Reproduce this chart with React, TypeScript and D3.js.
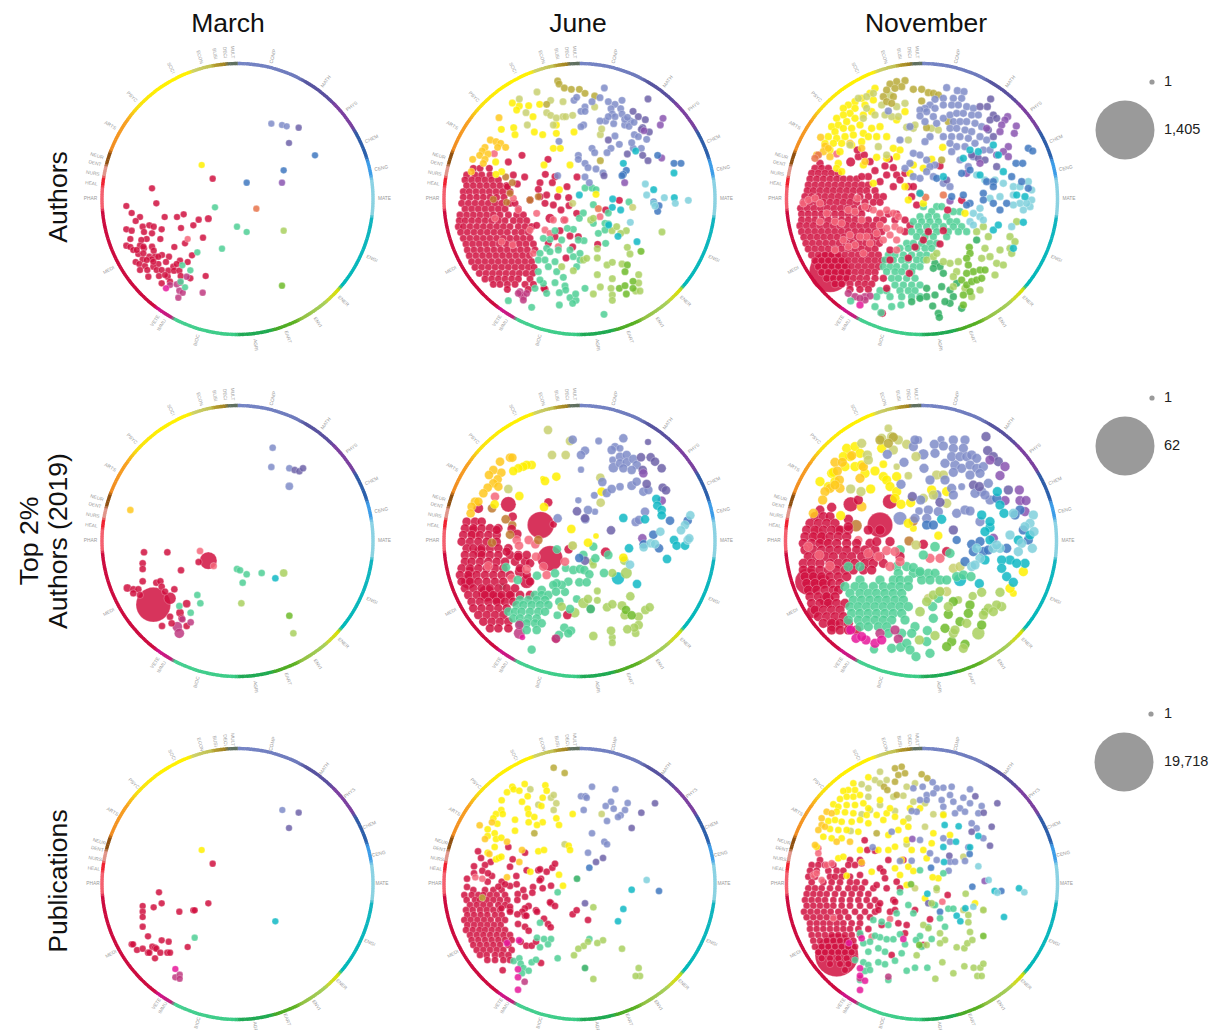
import React from "react";
import * as d3 from "d3";

const columnTitles = ["March", "June", "November"];
const fieldLabels: [string, number][] = [["COMP",14],["MATH",37],["PHYS",51],["CHEM",66],["CENG",78],["MATE",90],["ENGI",114],["ENER",134],["ENVI",147],["EART",160],["AGRI",173],["BIOC",196],["IMMU",211],["VETE",214],["MEDI",241],["PHAR",270],["HEAL",276],["NURS",280],["DENT",284],["NEUR",287],["ARTS",300],["PSYC",314],["SOCI",333],["ECON",345],["BUSI",351],["DECI",355],["MULT",358]];
const ringStops: [number, string][] = [[0,"#7585c5"],[27,"#6c78bb"],[30,"#55559f"],[43,"#5a4c9e"],[46,"#7c3fa0"],[58,"#7a3f9e"],[61,"#2f5aa5"],[72,"#2a60ac"],[74,"#3c9ce8"],[80,"#3c9ce8"],[82,"#8bd2e4"],[97,"#8bd2e0"],[98,"#10b4bf"],[130,"#00b8b8"],[132,"#d8e000"],[138,"#c8d830"],[140,"#a8cf5c"],[152,"#90c040"],[155,"#5ab020"],[164,"#45a825"],[166,"#1faa50"],[179,"#1fa855"],[181,"#3acb85"],[208,"#45cf90"],[209,"#c02078"],[216,"#d0108a"],[218,"#cc0a3e"],[265,"#cc0a3e"],[266,"#f4606f"],[275,"#f4606f"],[276,"#f0202f"],[279,"#f0202f"],[280,"#e0958a"],[284,"#e0958a"],[285,"#8f5010"],[290,"#8f5010"],[291,"#f08a20"],[305,"#f8a020"],[312,"#f8e010"],[325,"#fff000"],[339,"#fff000"],[341,"#ccd06a"],[349,"#c0c050"],[350,"#b5a030"],[355,"#a08020"],[356,"#607060"],[360,"#607060"]];
const fieldColors: Record<string,string> = {MEDI:"#d0103f",PHAR:"#f4667a",BIOC:"#4fcf95",AGRI:"#2fae62",ENVI:"#a9d05f",EART:"#6fbb2a",ENGI:"#10b8c4",MATE:"#7fd0dc",CHEM:"#3f78c0",PHYS:"#8a55b0",MATH:"#6d62a8",COMP:"#7f8cc8",SOCI:"#fff000",PSYC:"#ffc81e",NEUR:"#c07a30",ECON:"#c8d070",BUSI:"#b8aa38",IMMU:"#c03a80",VETE:"#e6189a",ORAN:"#e8734a"};

// March, Authors
const AM_MEDI=[186,445,368,416,109,498,199,490,125,519,150,531,137,543,224,531,261,531,281,523,326,539,310,556,273,564,158,560,178,556,191,560,215,568,109,568,125,572,162,576,186,580,121,597,211,597,339,593,170,597,154,600,109,617,121,621,150,617,130,630,162,625,186,620,191,632,253,621,285,610,306,646,145,642,137,666,158,658,178,650,195,650,216,645,237,650,228,666,148,672,165,678,185,658,205,672,150,690,172,690,190,680,200,690,235,692,250,680,270,662,293,666,175,710,207,708,233,710,252,692,268,692,215,730,240,725,272,708,301,715,347,708,260,672,160,620,140,630,170,660,190,665,205,650,215,690,225,705,160,640];
const AM_PHAR=[293,597];
const AM_BIOC=[375,502,441,560,470,576,396,626,322,637,277,676,301,691,272,725,285,742];
const AM_ENVI=[581,572];const AM_EART=[576,737];const AM_ORAN=[499,506];
const AM_IMMU=[260,733,270,728,240,735,268,752,278,758,265,773,338,758,290,710];const AM_VETE=[228,745];
const AM_COMP=[544,251,576,255,590,259];const AM_MATH=[626,263,597,309];const AM_CHEM=[675,346,581,391,470,428];const AM_PHYS=[576,428];const AM_SOCI=[335,375];
const AM_BIG=[["MEDI",355,536,11]];

// June, Authors
const AJ_BLOB=[[385,130,150,178],[405,110,135,155,180],[420,105,125,145,165,185,205],[437,110,130,150,170,190,210,230],[455,100,118,138,158,178,198,218,240],[472,100,120,140,160,180,200,222],[490,95,115,135,155,175,195,215,240,255],[507,105,125,145,165,185,205,225,265],[525,90,110,130,150,170,190,210,235,260,280],[542,88,105,125,145,165,185,205,225,250,270,290],[560,85,100,120,140,160,180,200,220,240,265,285,305],[577,92,112,132,152,172,192,212,232,255,275,295],[595,100,120,140,160,180,200,220,240,260,280,300],[612,108,128,148,168,188,208,228,248,268,288,310],[630,112,132,152,172,192,212,232,252,272,292,315],[647,118,138,158,178,198,218,238,258,278,298],[665,125,145,165,185,205,225,245,265,285,305],[682,135,155,175,195,215,235,255,275,295,312],[700,148,168,188,208,228,248,268,288,308],[717,165,185,205,225,245,265,300],[733,190,210,232,255,285,310],[748,232,295,345]];
const AJ_MEDI=[276,346,354,358,346,403,284,411,250,405,375,410,367,428,441,411,330,428,411,440,325,448,262,432,232,440,350,465,330,470,383,470,416,473,300,480,345,490,370,495,417,497,393,510,440,520,402,540,568,481,527,510,503,613,408,654,342,745,428,621,320,556,390,572,420,588,355,610,445,590,375,590];
const AJ_PHAR=[193,341,370,540,405,540,510,530,345,570,360,580,385,620,250,475,265,510,320,520,300,570,310,640,215,605,248,615,195,535];
const AJ_SOCI=[247,189,268,198,296,197,329,193,260,210,309,230,214,268,251,263,255,284,313,276,338,284,379,280,432,276,379,255,370,325,391,325,342,375,420,375,197,366,215,395,198,403,388,449,498,463];
const AJ_PSYC=[207,233,181,300,198,305,212,310,203,322,227,322,165,322,157,333,174,342,149,346,128,358,165,358,124,395,160,370];
const AJ_NEUR=[227,411,247,428,240,460,190,478,230,487,300,480,325,470];
const AJ_ECON=[321,156,268,177,362,181,399,185,288,218,350,218,362,226,379,234,399,230,407,230,428,226,292,255,370,255,511,284,515,267,494,201,428,490,608,502];
const AJ_BUSI=[383,123,387,132,403,144,424,148,448,148,465,160,494,168,350,193,511,362];
const AJ_COMP=[523,144,510,173,486,185,432,181,440,172,535,185,576,181,555,193,543,206,572,206,465,201,453,214,465,214,547,222,576,222,527,243,510,243,551,251,461,255,453,260,584,255,601,243,597,259,584,238,592,232,612,247,555,230,535,230,387,304,555,288,613,284,625,290,650,298,486,325,494,338,543,325,531,338,568,313,445,346,445,358,465,370,474,383,498,387,383,407,465,411,478,428,519,399,610,325,605,308,634,325];
const AJ_MATH=[654,177,609,214,625,230,646,239,638,263,658,276,634,268,535,300,592,342,638,346,654,362,522,407];
const AJ_PHYS=[699,235,691,255,642,272,695,354,584,428];
const AJ_CHEM=[683,346,732,370,753,370,589,391,580,403,576,407,671,486,687,497,683,514];
const AJ_ENGI=[617,333,580,370,732,399,671,449,448,465,548,477,547,502,572,510,733,473,621,605,564,589,536,555];
const AJ_MATE=[646,432,650,465,703,473,736,490,775,481,671,490,675,498,601,547];
const AJ_BIOC=[465,444,486,444,498,449,490,494,535,519,597,486,460,519,448,535,430,568,412,565,375,572,490,550,525,550,535,552,505,580,525,570,462,602,445,600,527,610,360,598,340,595,395,600,350,625,330,640,360,635,385,630,325,660,345,660,375,665,355,680,325,695,380,695,400,712,340,730,315,745,375,728,405,738,407,750,235,782,305,802,388,758,350,760,388,795,420,773,465,745,438,781,428,790,437,762,522,823,330,720,420,630,450,640,430,650,450,660,440,680];
const AJ_ENVI=[546,572,560,560,589,572,572,580,696,576,482,540,490,535,592,622,600,642,502,626,502,654,460,660,470,655,531,675,547,667,576,672,502,704,547,716,430,692,395,680,543,745,547,765,547,781,490,762,511,741,626,704,626,729,617,753,630,753];
const AJ_EART=[633,634,592,675,585,695,609,724,609,745,589,762,568,745,585,737];
const AJ_IMMU=[270,755,280,770,275,765,290,760,265,760,280,780];const AJ_ORAN=[505,506];
const AJ_BIG=[["MEDI",235,366,11],["MEDI",360,535,14]];

// November, Authors
const AN_BLOB=[[370,120],[385,105,125,145],[400,95,115,135,155,175],[417,90,110,130,150,170,190,210,230],[435,85,105,125,145,165,185,205,225,245,265],[452,82,100,120,140,160,180,200,220,240,260,285],[470,75,95,115,135,155,175,195,215,240,265,290,310],[487,70,90,110,130,150,170,190,210,230,255,280,300],[505,62,82,102,122,142,162,182,202,222,245,265],[522,65,85,105,125,145,165,185,205,225,245,300,325,350],[540,65,85,105,125,145,165,185,205,225,245,265,290,310,345,375],[557,60,80,100,120,140,160,180,200,220,240,260,280,300,390],[575,65,85,105,125,145,165,185,205,225,245,265,285,305,375],[592,72,92,112,132,152,172,192,212,232,252,272,292],[610,78,98,118,138,158,178,198,218,238,258,278,298],[627,85,105,125,145,165,185,205,225,245,265,285],[645,95,115,135,155,175,195,215,235,255,275,295],[662,105,125,145,165,185,205,225,245,265,285,305],[680,115,135,155,175,195,215,235,255,275,295],[697,125,145,165,185,205,225,245,265,285],[715,140,160,180,200,220,240,260,285],[732,165,185,210,235,255,275],[748,210,240,265]];
const AN_MEDI=[235,350,253,345,232,330,285,392,270,365,328,357,340,383,315,378,375,400,350,405,360,420,320,405,300,425,265,410,245,410,340,440,385,440,400,440,395,470,410,495,480,378,545,481,503,510,445,575,430,600,480,612,490,572,405,621,385,654,388,700,330,630,330,660,320,745,310,715,307,820];
const AN_PHAR=[70,490,85,480,105,475,120,490,140,520,165,545,185,550,205,510,225,515,245,540,255,500,280,510,300,520,320,510,340,520,355,530,300,555,320,565,345,560,330,585,350,600,290,580,260,590,270,610,240,590,225,615,205,620,250,640,360,570,350,630,310,600,190,600,210,585,232,475,165,630,120,545,170,342];
const AN_SOCI=[285,145,270,160,245,175,225,185,205,195,190,205,225,205,255,195,280,180,210,220,190,225,170,235,155,260,175,255,200,245,225,235,250,225,275,215,240,255,215,265,190,265,165,275,145,290,170,295,195,290,220,285,250,280,275,265,300,260,320,290,290,290,245,305,215,315,185,310,160,310,135,310,150,330,180,335,265,290,350,240,375,215,340,325,360,330,350,350,290,352,175,370,170,385,185,395,280,430,400,375,455,358,430,385,488,322,390,400,375,440,430,490,385,480,555,520,320,355,250,375];
const AN_PSYC=[122,292,135,318,130,335,150,350,110,345,145,325,210,310,245,325,255,365];
const AN_ORAN=[115,345,105,355,437,472,420,460,490,465];
const AN_ECON=[235,175,260,170,280,160,305,195,330,165,375,190,350,200,260,205,285,225,250,235,315,225,335,230,355,230,380,262,400,265,455,265,475,270,405,255,385,300,295,320,210,315,320,345];
const AN_BUSI=[375,122,350,125,330,132,365,140,345,145,320,150,310,170,340,170,320,185,335,190,400,148,425,148,445,158,460,160,475,165,425,183,505,245,440,263,485,360];
const AN_COMP=[500,143,532,152,552,155,520,175,545,175,490,175,465,178,450,195,435,205,420,210,440,215,465,205,490,195,515,195,535,195,560,200,580,205,460,230,490,235,510,225,530,220,550,220,575,225,595,225,420,228,435,245,470,250,520,245,540,245,560,245,585,250,605,260,510,265,530,265,555,270,575,275,600,290,620,300,490,290,515,290,540,290,565,295,585,310,510,310,530,320,555,320,610,330,630,330,515,335,450,290,435,305,400,340,420,345,440,360,465,375,450,380,390,370,375,385,400,410,420,415,440,395,460,410,490,430,510,440,360,300,390,260,325,213,540,360,580,350,565,380];
const AN_MATH=[632,177,622,200,600,200,640,225,630,240,650,235,625,270,640,290,595,355,615,360,650,380,575,345,500,420];
const AN_PHYS=[683,230,675,240,665,255,709,258,703,280,660,275,620,265,685,320,670,335,685,350,650,345,560,400,510,483,600,370];
const AN_CHEM=[745,325,758,333,708,370,728,370,570,390,620,425,640,425,610,460,640,440,610,480,640,490,680,490,660,510,550,465,515,470,570,490,545,400,725,425,745,445,695,410,560,495,470,415];
const AN_ENGI=[570,330,595,335,640,315,655,345,550,355,490,410,670,395,600,405,730,547,640,570,700,625,655,555,710,465,420,460,735,470];
const AN_MATE=[590,405,615,420,645,420,670,430,700,440,720,440,745,425,755,450,755,480,750,500,700,465,720,490,730,510,660,470,630,475,600,505,580,520,600,530,570,545,580,555,740,490,700,495,695,560,610,540];
const AN_BIOCROWS=[[500,430,470,485],[515,540,520,455],[530,420,445,470,500],[545,400,425,450,475,510,530],[560,415,440,465,490,520,545],[575,395,420,445,470,505,535,560],[590,410,435,460,500],[610,380,400,425,450,470],[625,360,385,410,435,455],[645,325,345,370,395,420,440],[660,315,340,365,385,410,430],[680,310,330,350,375,400,420],[695,320,345,365,395],[715,335,355,380,405],[735,345,370,395,420],[752,300,320,360,385,405],[770,290,330,365,395,420]];
const AN_BIOC=[212,783,285,800,335,800,363,795,303,818];
const AN_AGRI=[440,745,465,765,440,770,420,775,395,785,458,798,475,820,478,832,520,770,510,790,495,785,510,750,530,730,465,670,480,680,460,685,490,700,485,740,590,600,545,805];
const AN_EART=[568,622,570,640,560,655,565,675,580,695,600,690,560,700,545,720,560,735,575,725,590,720,605,715,570,755,550,765,550,795,615,690];
const AN_ENVI=[625,590,610,560,690,590,705,605,660,630,690,625,630,650,650,670,670,675,605,655,535,665,510,670,490,665,460,650,440,660,530,695,520,710,520,740,600,750,645,705,555,745,575,770,710,545,470,640,615,625,590,575,695,640];
const AN_IMMU=[205,760,225,770,255,770,270,768,255,780,240,775];const AN_VETE=[240,795];
const AN_BIG=[["MEDI",150,695,62],["MEDI",212,366,14]];

// March, Top 2%
const TM_COMP=[548,188,544,246,598,250];const TM_MATH=[614,255,628,259,639,250];const TM_PSYC=[121,375];
const TM_MEDI=[162,502,232,502,158,535,158,552,273,556,158,589,199,593,211,589,253,613,130,613,145,613,215,605,326,531,275,700,245,715,216,723,290,723,240,695,130,625,150,630,225,620];
const TM_PHAR=[330,498,371,543];
const TM_BIOC=[441,552,450,556,470,568,515,564,458,593,322,630,331,655,268,663,302,683];
const TM_ENVI=[454,655,610,745];const TM_EART=[598,692];const TM_ENGI=[556,580];const TM_IMMU=[302,712,277,703];
const TM_BIG=[["MEDI",190,659,52],["MEDI",355,527,26],["MEDI",240,640,18],["MEDI",112,609,12],["MEDI",290,656,12],["MEDI",270,683,12],["COMP",598,304,12],["ENVI",581,564,12],["IMMU",262,725,15],["IMMU",268,745,15]];

// June, Top 2%
const TJ_BLOB=[[410,110,135,155],[430,105,130,155,180,205],[450,100,125,150,175,200],[470,95,120,145,170,200],[490,110,130,155,180,205,235],[510,105,130,155,180,205,240,265],[530,105,125,150,175,200,225,255,285],[550,95,120,145,170,195,220,270],[570,90,115,140,165,190,215,240,290],[590,95,120,145,170,195,220,300],[610,105,130,155,180,205,230,255],[630,115,140,165,190,215,240,270,300],[650,125,150,175,200,225,250],[670,130,155,180,205,230],[690,145,170,195,220],[710,160,185,210,235],[730,180,205,235]];
const TJ_MEDI=[248,395,245,432,262,447,416,493,412,690,378,761,200,435,290,510,265,515,230,500,300,535];
const TJ_PHAR=[260,465,296,465,316,478,267,482,318,515,290,553,245,580,175,543,350,570,405,530,340,545,195,335];
const TJ_NEUR=[186,370,227,403,240,449,186,473,325,465];
const TJ_SOCI=[342,366,345,288,379,275,424,432,474,473,194,358,268,333,305,240,290,240,280,245,265,250,250,258,515,320,580,518];
const TJ_PSYC=[240,218,247,218,210,230,214,263,190,255,177,270,203,283,190,295,205,305,173,308,160,325,135,350,145,350,125,365,122,385];
const TJ_ECON=[354,135,366,210,407,210,420,168,235,312,511,278,512,353,428,482];
const TJ_COMP=[428,164,580,160,545,195,465,197,453,210,570,215,590,210,570,235,590,232,580,250,610,222,620,240,605,255,517,291,620,290,530,324,545,312,474,375,383,400,466,403,617,411,627,405,645,380,640,320,655,315];
const TJ_MATH=[633,217,662,217,675,230,638,255,650,297,441,379,465,400,543,436,465,527,695,250,698,308,708,316];
const TJ_PHYS=[640,265,637,460,695,347];
const TJ_CHEM=[720,407,773,407,670,449,687,490,641,478,448,519];
const TJ_ENGI=[580,399,679,342,682,362,695,375,695,391,597,490,732,465,740,482,765,482,711,522,621,597,645,403];
const TJ_MATE=[781,391,765,420,753,436,691,440,662,475,641,487,675,477,773,465,600,539,778,460];
const TJ_BIOCROWS=[[615,335],[630,315,335,355],[645,270,295,320,345],[660,260,280,305,330,355],[680,235,255,275,300,325,345],[700,250,270,295,320],[715,270,290,315,335],[735,290,320]];
const TJ_BIOC=[460,510,535,510,496,520,430,555,450,552,463,555,478,568,522,564,448,592,470,592,415,590,395,600,380,595,370,600,378,620,375,565,321,572,263,585,228,547,388,650,420,672,403,728,423,737,415,745,387,750];
const TJ_AGRI=[482,672];
const TJ_ENVI=[583,527,474,642,395,665,531,667,547,658,601,634,584,691,626,695,646,675,659,667,626,720,613,728,592,733,543,737,490,753,428,482];
const TJ_EART=[588,675,605,691];const TJ_IMMU=[268,720,378,761];
const TJ_BIG=[["MEDI",170,625,25],["MEDI",115,590,22],["MEDI",130,440,18],["MEDI",205,640,20],["MEDI",150,500,18],["MEDI",120,560,15],["MEDI",145,370,15],["MEDI",235,358,23],["MEDI",332,420,40],["MEDI",355,352,13],["MEDI",360,520,38],["MEDI",527,502,15],["MEDI",270,560,16],["MEDI",290,590,20],["MEDI",240,630,16],["MEDI",370,418,11],["PHAR",136,449,14],["NEUR",247,420,13],["SOCI",338,280,8],["SOCI",498,453,9],["COMP",506,168,11],["COMP",555,185,12],["COMP",570,190,11],["COMP",548,225,11],["COMP",550,248,15],["COMP",453,254,10],["COMP",493,331,11],["COMP",445,346,10],["COMP",495,380,10],["COMP",570,305,12],["COMP",605,302,14],["MATH",654,171,10],["ENGI",564,580,19],["BIOC",381,493,13],["BIOC",407,550,12],["BIOC",405,621,13],["BIOC",218,605,10],["BIOC",440,642,12],["BIOC",382,691,12],["BIOC",305,794,13],["BIOC",490,485,13],["ENVI",589,564,17],["ENVI",547,564,13],["ENVI",486,530,11],["ENVI",490,540,11],["ENVI",502,618,11],["ENVI",502,646,11],["ENVI",460,654,16],["ENVI",434,683,15],["ENVI",576,662,14],["ENVI",617,745,12],["ENVI",547,757,11],["ENVI",547,773,11],["IMMU",268,745,17],["VETE",277,757,9]];

// November, Top 2%
const TN_BLOB=[[395,105,130,150],[415,90,115,140,165],[435,80,105,130,155,180,205],[455,75,100,125,150,175,200],[475,70,95,120,145,170,200,230,270],[495,75,100,125,150,175,200,230,255,285],[515,85,110,135,160,190,215,245,270,300],[535,70,95,120,150,175,200,225,255,280,310],[555,70,95,120,145,170,195,220,250,275],[575,75,100,125,150,175,200],[595,80,105,130,155,180],[615,85,110,135,160,175],[635,90,115,140,165],[655,95,120,145,170,195],[675,105,130,155,180],[695,115,140,165,190],[715,130,155,180,205],[735,155,180,205,230]];
const TN_MEDI=[155,367,235,345,205,403,205,425,265,435,290,470,360,515,430,478,500,500,330,470];
const TN_PHAR=[85,485,118,510,150,543,265,505,295,515,320,497,345,500,360,530,330,545,480,520,450,520];
const TN_NEUR=[387,468,400,408];
const TN_SOCI=[120,290,155,265,165,290,195,245,210,215,200,190,225,185,240,205,225,245,245,240,285,258,310,275,320,285,350,275,330,305,272,312,350,320,345,340,363,358,392,353,182,392,385,415,160,262,305,190,145,305,190,215,255,265,455,315,500,320,730,560,690,610];
const TN_PSYC=[165,232,187,232,172,258,178,285,150,310,135,320,180,310,128,345,100,385,250,245,240,280,165,300,215,212];
const TN_ECON=[335,155,305,160,355,165,340,195,380,178,262,210,265,225,408,215,470,270,490,270,245,175,212,312,243,320,430,340,460,330,500,355,408,480,520,550,540,545,500,620,480,620];
const TN_BUSI=[340,157,300,165,325,175];
const TN_COMP=[400,185,405,165,463,178,490,183,465,205,520,165,555,165,550,190,520,190,495,235,515,215,540,215,560,215,545,250,575,210,590,220,570,240,590,250,610,245,520,262,432,250,450,285,495,285,515,310,520,330,570,270,600,265,625,295,605,320,630,345,585,325,615,330,363,298,372,232,322,208,422,345,445,375,475,380,530,385,555,375,440,400,600,410,570,378,405,400];
const TN_MATH=[618,155,623,197,640,215,655,230,685,315,598,305,397,335,520,435,480,352];
const TN_PHYS=[675,245,660,272,718,315,675,347,720,347,738,347,735,380,630,225,640,460];
const TN_CHEM=[575,478,600,470,580,500,610,500,625,495,680,490,720,375,705,390,730,435,745,465,440,420,460,420,650,340,555,530];
const TN_ENGI=[652,320,660,360,672,385,630,428,630,465,715,465,690,525,735,535,710,535,665,525,680,575,700,592,598,596,485,403,615,525,630,410,615,440,750,450,665,550,605,390];
const TN_MATE=[760,390,750,415,762,440,690,450,725,475,715,500,757,490,660,490,640,490,590,490,600,520,575,545,585,540,650,480,735,425,700,385];
const TN_BIOCROWS=[[545,205,240,350,380],[565,355,400,420,445,465],[585,240,300,340,360,385,425,450,480,500],[605,195,225,250,280,310,335,360,385],[625,210,240,265,290,315,340,365],[645,220,245,270,295,320,345,370],[665,210,235,260,285,310,335,360,385],[685,215,240,265,290,315,340,365],[705,205,235,260,285,310,335,375],[725,240,265,295,320,405],[745,325,395,365]];
const TN_BIOC=[400,548,430,510,510,505,530,575,550,570,573,575,475,640,458,665,460,700,335,790,362,787,442,737,380,775,390,795,408,815,450,805,440,770,420,560];
const TN_EART=[570,660,565,685,540,710,605,720,505,688,495,730,515,770,500,785,555,778,520,650];
const TN_ENVI=[505,665,605,622,660,622,665,665,650,660,625,670,560,715,520,745,550,790,465,752,418,765,440,650,460,630,480,620,610,690,525,735,640,680];
const TN_IMMU=[300,745,355,762,345,735];const TN_VETE=[212,735,228,760,258,765,285,775,305,765,245,755];
const TN_BIG=[["MEDI",85,590,40],["MEDI",130,590,22],["MEDI",100,680,20],["MEDI",140,645,22],["MEDI",125,460,18],["MEDI",160,720,20],["MEDI",120,375,14],["MEDI",212,358,22],["MEDI",330,350,22],["MEDI",300,420,38],["MEDI",175,435,14],["MEDI",300,435,15],["PHAR",110,445,20],["PHAR",140,470,13],["PHAR",235,465,13],["NEUR",228,422,18],["SOCI",400,430,11],["SOCI",475,452,13],["SOCI",310,238,12],["SOCI",700,625,11],["PSYC",245,365,15],["ECON",325,130,12],["ECON",350,245,10],["ECON",385,272,12],["ECON",445,640,14],["COMP",415,165,12],["COMP",430,208,16],["COMP",483,163,11],["COMP",525,240,15],["COMP",545,305,11],["COMP",470,330,15],["COMP",417,378,12],["COMP",360,400,20],["MATH",580,300,14],["CHEM",530,465,13],["ENGI",540,585,19],["BIOC",282,793,13],["BIOC",360,495,15],["BIOC",465,485,15],["EART",615,680,12],["ENVI",578,633,13],["ENVI",535,645,12],["ENVI",595,745,19],["ENVI",420,680,15]];

// March, Publications
const PM_COMP=[577,255];const PM_MATH=[626,263,597,309];const PM_SOCI=[335,375];
const PM_MEDI=[368,416,207,502,215,535,158,543,158,560,191,547,268,560,310,556,314,556,355,535,158,576,158,605,174,634,215,646,236,650,125,658,129,658,141,675,158,671,174,683,178,683,187,665,195,668,199,671,211,683,232,683,240,683,195,700,293,666];
const PM_BIOC=[314,638];const PM_ENGI=[556,589];const PM_VETE=[256,732];const PM_IMMU=[256,757,269,749,269,761];

// June, Publications
const PJ_BLOB=[[495,130,165,190,215],[510,103,125,145,160,180,200,225],[525,110,135,150,170,190,210,232],[540,120,140,160,180,205,225],[555,108,128,150,170,190,210,240],[570,112,132,152,172,195,215],[585,103,122,142,162,182,205,225],[600,112,132,152,172,192,212],[615,108,128,148,165,185,205,225],[630,120,140,160,180,200,220,240],[645,125,145,165,185,205,225,245],[660,130,150,170,190,210,235],[675,140,160,180,200,220,245],[690,150,170,195,215,235],[705,172,195,220,240]];
const PJ_MEDI=[144,379,153,399,182,411,165,420,132,424,132,445,157,437,186,453,174,445,111,461,111,486,173,470,215,470,205,485,240,425,248,403,235,366,285,383,259,453,290,436,325,436,330,433,350,440,367,428,375,416,333,461,329,466,309,486,338,490,363,482,240,483,225,478,260,478,280,495,307,503,285,515,263,507,262,525,363,535,360,532,375,543,296,543,285,550,277,560,262,568,285,572,264,597,318,556,321,560,342,581,354,597,362,607,285,605,296,617,428,568,440,556,474,585,289,662,305,662,318,650,333,714,218,736,289,572,240,545,240,560,214,550,272,650];
const PJ_BUSI=[371,128,404,144,313,325,157,518];
const PJ_COMP=[486,185,556,193,453,214,466,214,470,218,543,230,527,243,593,234,551,251,461,255,585,255,572,271,564,276,531,288,486,325,523,350,531,358,474,383];
const PJ_MATH=[675,235,634,263,605,309,498,411,519,399,465,535];
const PJ_CHEM=[478,428,687,498];const PJ_MATE=[650,465];const PJ_ENGI=[605,494,580,552,564,589];
const PJ_ECON=[301,193,363,218,371,210,379,235,325,239,371,255,515,267,404,358];
const PJ_SOCI=[284,177,247,185,251,193,268,197,231,202,346,181,350,197,293,214,338,218,215,226,276,230,334,243,293,251,214,255,296,267,198,267,218,267,313,276,190,280,255,284,338,292,296,292,321,300,202,296,379,280,387,300,255,317,173,313,194,325,198,342,173,333,214,338,194,366,325,379,342,375,416,362,420,375,428,267,173,383,198,403,206,399,214,395,387,449,399,482,301,440];
const PJ_PSYC=[149,301,186,292,231,350,276,375,268,411,231,457,178,387,165,342];
const PJ_PHAR=[136,457,157,461];
const PJ_BIOC=[383,502,330,593,321,638,342,642,363,642,354,658,330,667,383,700,251,708,268,700,272,716,305,712,318,704,280,729,296,737,276,745,478,642];
const PJ_AGRI=[441,461,465,729];
const PJ_ENVI=[490,547,576,671,519,646,502,654,461,663,445,671,432,691,626,729,630,753,617,753,490,762,474,650];
const PJ_VETE=[267,646,231,654,264,733,264,757,264,794];const PJ_IMMU=[284,770];

// November, Publications
const PN_BLOB=[[405,120,210,240],[420,95,115,135,160,205,225],[437,90,110,145,170,190],[455,85,105,150,165,185,210],[472,95,130,155,180,210,230,255],[490,85,105,125,150,175,205,225,245,280],[507,80,100,120,140,165,190,215,240,265],[525,75,95,115,135,160,185,210,235,260,285],[542,80,100,120,140,160,185,210,240,270,295],[560,72,92,112,132,152,175,195,225,255,285],[577,80,100,120,140,160,180,205,240,270],[595,90,110,130,150,170,190,215,240],[612,90,110,130,150,170,190,210,235,265],[630,95,115,135,155,175,195,215,240],[647,100,120,140,160,180,200,220],[665,105,125,145,165,185,205,225],[682,115,135,155,175,195,215],[700,125,150,175,200,225],[717,150,180,205],[735,195]];
const PN_MEDI=[254,346,262,375,285,377,325,405,245,415,300,430,310,440,370,405,240,450,315,460,350,470,290,480,320,490,360,490,340,525,345,530,300,535,295,555,330,560,345,555,405,555,355,595,450,583,380,600,375,625,335,690,503,510,430,660,305,600];
const PN_PHAR=[115,370,115,385,100,450,110,445,125,465,160,580,330,582,487,530,275,635,140,420,155,415];
const PN_SOCI=[265,157,220,175,225,195,205,195,190,198,240,210,220,215,200,215,180,222,160,238,175,245,200,240,225,240,250,235,170,260,195,262,220,265,145,288,165,285,185,290,215,290,240,285,265,295,290,270,310,285,320,265,150,312,175,315,200,315,235,320,260,270,345,275,370,290,385,305,325,330,355,315,130,335,155,340,185,340,390,250,110,365,175,400,240,375,295,375,325,375,345,365,380,345,395,375,365,405,385,425,400,438,345,430,275,440,200,452,455,355,460,325,510,330,420,250,490,270,430,375,475,460,458,457,440,400,380,480,435,520,585,535,360,450,190,395,265,250,300,225,330,250];
const PN_PSYC=[125,280,140,260,155,265,125,300,115,315,170,350,245,412,135,305,210,350,105,360];
const PN_ECON=[245,178,265,190,285,165,300,140,300,175,320,165,340,215,370,212,380,185,405,175,400,230,265,215,245,268,270,255,300,240,345,258,385,280,435,305,460,268,490,268,435,235,212,318,380,358,550,395,405,490,470,495,460,540,550,555,610,555];
const PN_BUSI=[365,125,345,130,375,145,355,150,345,170,425,148,442,160,290,325,312,185,322,195,350,210];
const PN_COMP=[428,185,458,172,490,188,515,185,470,190,440,210,460,205,510,210,550,218,570,193,420,225,440,225,485,225,520,230,490,245,570,235,605,243,400,190,540,250,555,260,525,265,595,265,575,295,590,310,410,260,395,258,335,320,278,367,610,340,420,345,510,350,490,340,565,367,450,385,470,405,510,410,525,410,555,408,360,408,395,407,506,437];
const PN_MATH=[652,235,586,214,611,263,635,305,630,362,575,320,508,392,445,535];
const PN_PHYS=[397,342,614,468];const PN_CHEM=[569,387,453,428,664,498,577,485,480,560];
const PN_ENGI=[494,300,536,304,595,333,528,350,490,366,570,367,492,411,442,506,644,498,717,490,672,576,556,550,530,572,541,589];
const PN_MATE=[595,424,626,465,652,503,733,502,580,545];
const PN_BIOC=[420,436,490,445,360,502,465,540,505,551,520,551,400,565,385,540,350,565,480,580,445,607,495,605,280,585,305,590,325,600,240,625,300,637,320,643,340,643,360,628,375,658,250,655,270,650,295,670,315,680,365,685,345,707,225,705,250,712,265,720,295,712,315,718,255,738,270,735,240,765,325,765,380,737,405,728,442,728,420,633,408,645,425,665,455,642,285,632,265,680];
const PN_EART=[610,633,418,660,393,478];
const PN_ENVI=[557,506,470,490,430,600,445,610,565,570,565,592,570,621,480,625,495,645,480,655,440,660,530,667,553,670,562,655,577,645,410,691,487,712,553,724,581,728,601,728,610,716,520,745,466,761,592,753,605,753,610,555,455,535];
const PN_IMMU=[325,755,240,760];const PN_VETE=[207,654,245,640,370,642,240,730,255,767,240,795,240,752];
const PN_BIG=[["MEDI",170,690,65]];

type Group=[string,number[]];
type Panel={col:number;row:number;r:number;big:any[];rows:[string,number[][]][];groups:Group[]};
const panels:Panel[]=[
{col:0,row:0,r:10,big:AM_BIG,rows:[],groups:[["MEDI",AM_MEDI],["PHAR",AM_PHAR],["IMMU",AM_IMMU],["VETE",AM_VETE],["BIOC",AM_BIOC],["ENVI",AM_ENVI],["EART",AM_EART],["ORAN",AM_ORAN],["COMP",AM_COMP],["MATH",AM_MATH],["CHEM",AM_CHEM],["PHYS",AM_PHYS],["SOCI",AM_SOCI]]},
{col:1,row:0,r:11,big:AJ_BIG,rows:[["MEDI",AJ_BLOB]],groups:[["MEDI",AJ_MEDI],["IMMU",AJ_IMMU],["PHAR",AJ_PHAR],["NEUR",AJ_NEUR],["BIOC",AJ_BIOC],["ENVI",AJ_ENVI],["EART",AJ_EART],["SOCI",AJ_SOCI],["PSYC",AJ_PSYC],["ECON",AJ_ECON],["BUSI",AJ_BUSI],["COMP",AJ_COMP],["MATH",AJ_MATH],["PHYS",AJ_PHYS],["CHEM",AJ_CHEM],["ENGI",AJ_ENGI],["MATE",AJ_MATE],["ORAN",AJ_ORAN]]},
{col:2,row:0,r:11.5,big:AN_BIG,rows:[["MEDI",AN_BLOB],["BIOC",AN_BIOCROWS]],groups:[["MEDI",AN_MEDI],["PHAR",AN_PHAR],["IMMU",AN_IMMU],["VETE",AN_VETE],["BIOC",AN_BIOC],["AGRI",AN_AGRI],["ENVI",AN_ENVI],["EART",AN_EART],["SOCI",AN_SOCI],["PSYC",AN_PSYC],["ORAN",AN_ORAN],["ECON",AN_ECON],["BUSI",AN_BUSI],["COMP",AN_COMP],["MATH",AN_MATH],["PHYS",AN_PHYS],["MATE",AN_MATE],["CHEM",AN_CHEM],["ENGI",AN_ENGI]]},
{col:0,row:1,r:10.5,big:TM_BIG,rows:[],groups:[["MEDI",TM_MEDI],["PHAR",TM_PHAR],["BIOC",TM_BIOC],["ENVI",TM_ENVI],["EART",TM_EART],["ENGI",TM_ENGI],["IMMU",TM_IMMU],["COMP",TM_COMP],["MATH",TM_MATH],["PSYC",TM_PSYC]]},
{col:1,row:1,r:13.5,big:TJ_BIG,rows:[["MEDI",TJ_BLOB],["BIOC",TJ_BIOCROWS]],groups:[["MEDI",TJ_MEDI],["PHAR",TJ_PHAR],["NEUR",TJ_NEUR],["BIOC",TJ_BIOC],["AGRI",TJ_AGRI],["ENVI",TJ_ENVI],["EART",TJ_EART],["IMMU",TJ_IMMU],["SOCI",TJ_SOCI],["PSYC",TJ_PSYC],["ECON",TJ_ECON],["COMP",TJ_COMP],["MATH",TJ_MATH],["PHYS",TJ_PHYS],["CHEM",TJ_CHEM],["ENGI",TJ_ENGI],["MATE",TJ_MATE]]},
{col:2,row:1,r:14.5,big:TN_BIG,rows:[["MEDI",TN_BLOB],["BIOC",TN_BIOCROWS]],groups:[["MEDI",TN_MEDI],["PHAR",TN_PHAR],["NEUR",TN_NEUR],["IMMU",TN_IMMU],["VETE",TN_VETE],["SOCI",TN_SOCI],["PSYC",TN_PSYC],["ECON",TN_ECON],["BUSI",TN_BUSI],["COMP",TN_COMP],["MATH",TN_MATH],["PHYS",TN_PHYS],["CHEM",TN_CHEM],["ENGI",TN_ENGI],["MATE",TN_MATE],["BIOC",TN_BIOC],["EART",TN_EART],["ENVI",TN_ENVI]]},
{col:0,row:2,r:10,big:[],rows:[],groups:[["MEDI",PM_MEDI],["BIOC",PM_BIOC],["ENGI",PM_ENGI],["VETE",PM_VETE],["IMMU",PM_IMMU],["COMP",PM_COMP],["MATH",PM_MATH],["SOCI",PM_SOCI]]},
{col:1,row:2,r:10.5,big:[],rows:[["MEDI",PJ_BLOB]],groups:[["MEDI",PJ_MEDI],["BUSI",PJ_BUSI],["COMP",PJ_COMP],["MATH",PJ_MATH],["CHEM",PJ_CHEM],["MATE",PJ_MATE],["ENGI",PJ_ENGI],["ECON",PJ_ECON],["SOCI",PJ_SOCI],["PSYC",PJ_PSYC],["PHAR",PJ_PHAR],["BIOC",PJ_BIOC],["AGRI",PJ_AGRI],["ENVI",PJ_ENVI],["VETE",PJ_VETE],["IMMU",PJ_IMMU]]},
{col:2,row:2,r:10.5,big:PN_BIG,rows:[["MEDI",PN_BLOB]],groups:[["MEDI",PN_MEDI],["PHAR",PN_PHAR],["ECON",PN_ECON],["SOCI",PN_SOCI],["PSYC",PN_PSYC],["BUSI",PN_BUSI],["COMP",PN_COMP],["MATH",PN_MATH],["PHYS",PN_PHYS],["CHEM",PN_CHEM],["ENGI",PN_ENGI],["MATE",PN_MATE],["BIOC",PN_BIOC],["EART",PN_EART],["ENVI",PN_ENVI],["IMMU",PN_IMMU],["VETE",PN_VETE]]},
];

const cropX=[90,430,780];const cropY=[40,385,725];
const ringCx=[237.5,579.5,922];const ringCy=[199,541,884];
const RING_R=135.5;
const legendValues=["1,405","62","19,718"];
const legendY=[[82,130],[398,446],[714,762]];

const angleScale=d3.scaleLinear().domain(ringStops.map(s=>s[0])).range(ringStops.map(s=>s[1]) as any).interpolate(d3.interpolateRgb as any) as any;
const degs=d3.range(0,360);
const ringArc=d3.arc();
const ringPieces=degs.map(d=>({d:ringArc({innerRadius:RING_R-1.7,outerRadius:RING_R+1.7,startAngle:(d-0.1)*Math.PI/180,endAngle:(d+1.1)*Math.PI/180} as any) as string,c:angleScale(d+0.5)}));
const unit=d3.scaleLinear().domain([0,900]).range([0,300]);
const FONT="'Liberation Sans',Arial,sans-serif";

function pts(flat:number[]){const o:[number,number][]=[];for(let i=0;i<flat.length;i+=2)o.push([flat[i],flat[i+1]]);return o;}
function rowPts(rows:number[][]){const o:[number,number][]=[];rows.forEach(r=>r.slice(1).forEach(x=>o.push([x,r[0]])));return o;}

function Dots({pp,field,r}:{pp:[number,number][];field:string;r:number}){
  return <g fill={fieldColors[field]} fillOpacity={0.85} stroke="#fff" strokeOpacity={0.55} strokeWidth={0.5}>{pp.map((p,i)=><circle key={i} cx={unit(p[0])} cy={unit(p[1])} r={unit(r)}/>)}</g>;
}

function Chart(){
  return <svg width={1212} height={1030} style={{position:"absolute",left:0,top:0}} fontFamily={FONT}>
    <rect width={1212} height={1030} fill="#fff"/>
    {columnTitles.map((t,i)=><text key={t} x={[228,578,926][i]} y={32} fontSize={26.5} textAnchor="middle" fill="#111">{t}</text>)}
    <text transform="translate(67,197) rotate(-90)" fontSize={26.6} textAnchor="middle" fill="#111">Authors</text>
    <text transform="translate(38,541) rotate(-90)" fontSize={26.6} textAnchor="middle" fill="#111">Top 2%</text>
    <text transform="translate(67,541) rotate(-90)" fontSize={26.6} textAnchor="middle" fill="#111">Authors (2019)</text>
    <text transform="translate(67,881) rotate(-90)" fontSize={26.6} textAnchor="middle" fill="#111">Publications</text>
    {panels.map((p,idx)=>{
      const cx=p.col===2&&p.row===1?921:ringCx[p.col];const cy=ringCy[p.row];
      const labelR=p.row===2?144.5:147;
      return <g key={idx}>
        <g transform={`translate(${cropX[p.col]},${cropY[p.row]})`}>
          <g fillOpacity={0.85}>{p.big.map((b:any,i:number)=><circle key={i} cx={unit(b[1])} cy={unit(b[2])} r={unit(b[3])} fill={fieldColors[b[0]]} stroke="#fff" strokeOpacity={0.5} strokeWidth={0.5}/>)}</g>
          {p.rows.map((g,i)=><Dots key={"r"+i} pp={rowPts(g[1])} field={g[0]} r={p.r}/>)}
          {p.groups.map((g,i)=><Dots key={"g"+i} pp={pts(g[1])} field={g[0]} r={p.r}/>)}
        </g>
        <g transform={`translate(${cx},${cy})`}>
          {ringPieces.map((s,i)=><path key={i} d={s.d} fill={s.c}/>)}
          {fieldLabels.map(([l,a])=>{
            const rad=a*Math.PI/180;const x=labelR*Math.sin(rad);const y=-labelR*Math.cos(rad);
            const rot=a<=180?a-90:a-270;
            return <text key={l} transform={`translate(${x},${y}) rotate(${rot})`} fontSize={4.8} fill="#999" textAnchor="middle" dominantBaseline="middle">{l}</text>;
          })}
        </g>
      </g>;
    })}
    {legendValues.map((v,i)=><g key={v} fill="#9a9a9a">
      <circle cx={1152-(i===2?1:0)} cy={legendY[i][0]} r={2.6}/>
      <circle cx={1125-(i===2?1:0)} cy={legendY[i][1]} r={29.5}/>
      <text x={1164} y={legendY[i][0]+4} fontSize={14.5} fill="#222">1</text>
      <text x={1164} y={legendY[i][1]+4} fontSize={14.5} fill="#222">{v}</text>
    </g>)}
  </svg>;
}

export default function App(){return <Chart/>;}
